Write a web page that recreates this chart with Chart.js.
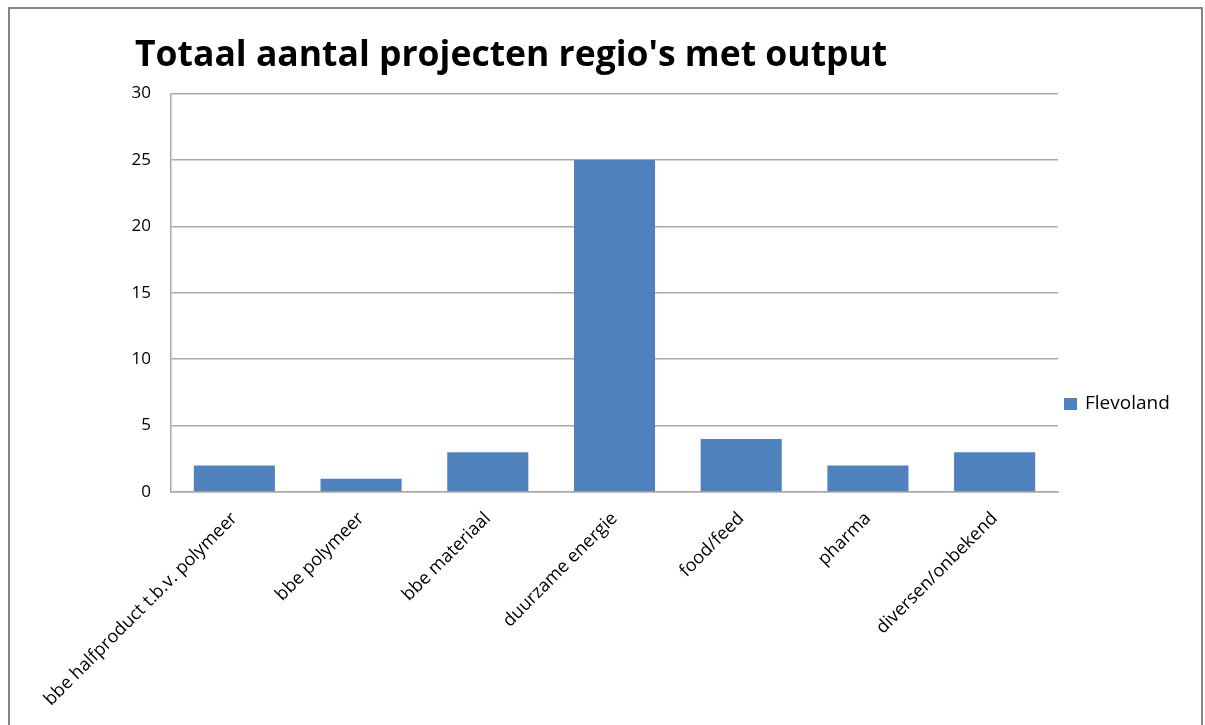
<!DOCTYPE html>
<html>
<head>
<meta charset="utf-8">
<title>Totaal aantal projecten regio's met output</title>
<script src="https://cdn.jsdelivr.net/npm/chart.js@4/dist/chart.umd.min.js"></script>
<style>
  html, body { margin: 0; padding: 0; background: #fff; }
  canvas { display: block; }
</style>
</head>
<body>
<canvas id="myChart" width="1205" height="725"></canvas>
<script>
const categories = [
  'bbe halfproduct t.b.v. polymeer',
  'bbe polymeer',
  'bbe materiaal',
  'duurzame energie',
  'food/feed',
  'pharma',
  'diversen/onbekend'
];
const seriesName = 'Flevoland';
const seriesValues = [2, 1, 3, 25, 4, 2, 3];
const yTicks = [0, 5, 10, 15, 20, 25, 30];

const barColor = '#4f81bd';
const gridColor = '#a9a9a9';
const fontFamily = "'Open Sans', sans-serif";

// grey frame around the whole chart
const framePlugin = {
  id: 'frame',
  beforeDraw(chart) {
    const c = chart.ctx;
    c.save();
    c.fillStyle = '#fff';
    c.fillRect(0, 0, chart.width, chart.height);
    c.strokeStyle = '#868686';
    c.lineWidth = 2;
    c.strokeRect(9, 8, 1193, 800);
    c.restore();
  }
};

// title sits a bit left of the plot, not centred
const titleShift = {
  id: 'titleShift',
  afterLayout(chart) {
    if (chart.titleBlock) chart.titleBlock.left = 135;
  }
};

// legend entry to the right of the plot
const sideLegend = {
  id: 'sideLegend',
  afterDraw(chart) {
    const c = chart.ctx;
    const ds = chart.data.datasets[0];
    const x = chart.chartArea.right + 6;
    const y = 404;
    c.save();
    c.fillStyle = ds.backgroundColor;
    c.fillRect(x, y - 6, 13, 12);
    c.fillStyle = '#000';
    c.font = '19px ' + fontFamily;
    c.textBaseline = 'middle';
    c.fillText(ds.label, x + 21, y);
    c.restore();
  }
};

const ctx = document.getElementById('myChart');
let chart = new Chart(ctx, {
  type: 'bar',
  data: {
    labels: categories,
    datasets: [{
      label: seriesName,
      data: seriesValues,
      backgroundColor: barColor,
      borderWidth: 0,
      barPercentage: 0.64,
      categoryPercentage: 1
    }]
  },
  options: {
    responsive: false,
    animation: false,
    layout: {
      padding: { left: 100, right: 147, top: 0, bottom: 0 }
    },
    plugins: {
      legend: { display: false },
      tooltip: { enabled: false },
      title: {
        display: true,
        text: "Totaal aantal projecten regio's met output",
        align: 'start',
        color: '#000',
        font: { family: fontFamily, size: 35.5, weight: 'bold', lineHeight: 1.2 },
        padding: { top: 35, bottom: 16 }
      }
    },
    scales: {
      x: {
        grid: { display: false, drawTicks: false },
        border: { color: gridColor, width: 1.5 },
        ticks: {
          color: '#000',
          font: { family: fontFamily, size: 18 },
          minRotation: 45,
          maxRotation: 45,
          autoSkip: false,
          padding: 16
        },
        afterFit(scale) { scale.height = 233; }
      },
      y: {
        min: 0,
        max: 30,
        afterBuildTicks(scale) {
          scale.ticks = yTicks.map(v => ({ value: v }));
        },
        grid: { color: gridColor, lineWidth: 1.5, drawTicks: false },
        border: { color: gridColor, width: 1.5 },
        ticks: {
          color: '#000',
          font: { family: fontFamily, size: 17 },
          padding: 20
        },
        afterFit(scale) { scale.width = 71; }
      }
    }
  },
  plugins: [framePlugin, titleShift, sideLegend]
});
</script>
</body>
</html>
